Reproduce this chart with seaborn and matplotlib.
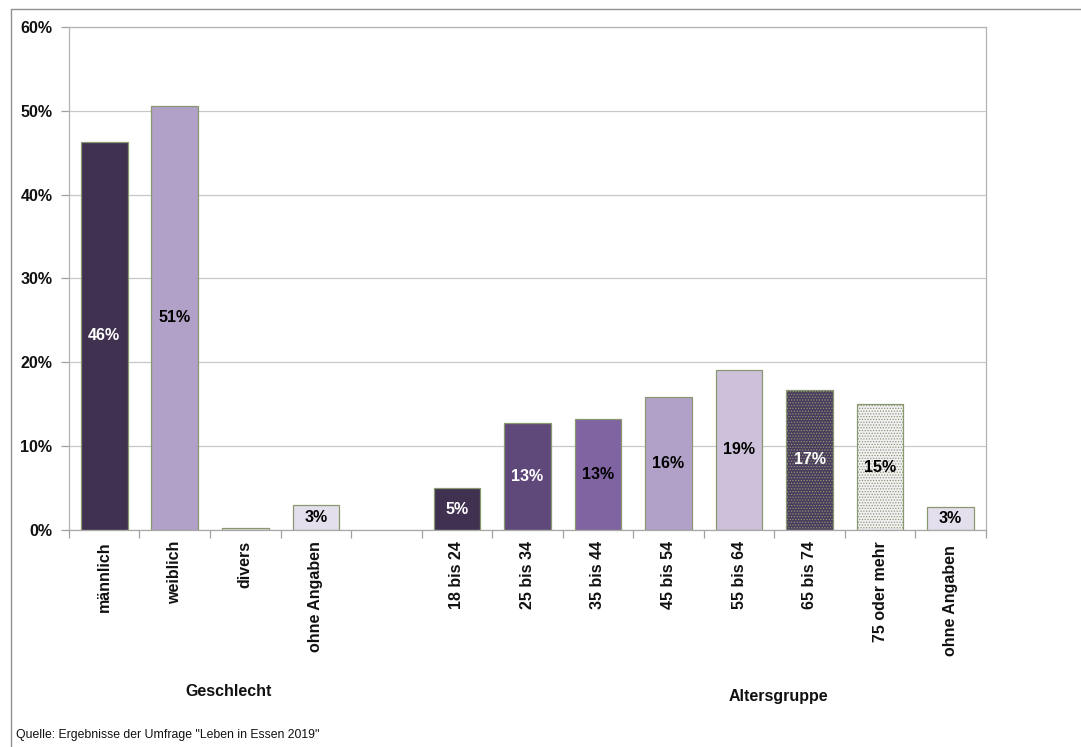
import matplotlib
matplotlib.use("Agg")
import matplotlib.pyplot as plt
import seaborn as sns
import pandas as pd
import numpy as np
from matplotlib.lines import Line2D

categories = ["männlich", "weiblich", "divers", "ohne Angaben", " ",
              "18 bis 24", "25 bis 34", "35 bis 44", "45 bis 54", "55 bis 64",
              "65 bis 74", "75 oder mehr", "ohne Angaben "]
values = [46.3, 50.6, 0.2, 3.0, np.nan,
          5.0, 12.8, 13.2, 15.9, 19.1, 16.7, 15.0, 2.7]
labels = ["46%", "51%", "", "3%", "",
          "5%", "13%", "13%", "16%", "19%", "17%", "15%", "3%"]
colors = ["#403151", "#b1a0c7", "#e4dfec", "#e4dfec", "#ffffff",
          "#403151", "#5f497a", "#8064a2", "#b1a0c7", "#ccc0da",
          "#4a3b5e", "#f2f0f4", "#e4dfec"]
label_colors = ["white", "black", "black", "black", "black",
                "white", "white", "black", "black", "black",
                "white", "black", "black"]
hatches = [None]*10 + ["......", "......", None]
hatch_colors = [None]*10 + ["#7d6d92", "#9a9a9a", None]
group_labels = ["Geschlecht", "Altersgruppe"]
source = 'Quelle: Ergebnisse der Umfrage "Leben in Essen 2019"'

df = pd.DataFrame({"cat": categories, "val": values})

sns.set_style("white")
plt.rcParams['font.family'] = ['Liberation Sans', 'DejaVu Sans']
plt.rcParams['hatch.linewidth'] = 0.6
plt.rcParams['text.color'] = '#111111'
plt.rcParams['xtick.labelcolor'] = '#111111'
plt.rcParams['ytick.labelcolor'] = '#111111'

fig = plt.figure(figsize=(10.81, 7.47), dpi=100)
ax = fig.add_axes([0.0638, 0.2905, 0.912 - 0.0638, 0.9639 - 0.2905])

sns.barplot(data=df, x="cat", y="val", hue="cat", palette=colors, order=categories,
            hue_order=categories, legend=False, width=0.66, ax=ax,
            edgecolor="#8a9870", linewidth=0.9, saturation=1)

for p in list(ax.patches):
    cx = p.get_x() + p.get_width() / 2
    i = int(round(cx))
    if np.isnan(values[i]):
        continue
    if hatches[i]:
        p.set_hatch(hatches[i])
        if hasattr(p, "set_hatchcolor"):
            p.set_hatchcolor(hatch_colors[i])
    if labels[i]:
        ax.text(cx, values[i] / 2, labels[i], ha="center", va="center",
                color=label_colors[i], fontsize=11.5, fontweight="bold")

ax.set_xlim(-0.5, len(categories) - 0.5)
ax.set_ylim(0, 60)
ax.set_yticks(range(0, 61, 10))
ax.set_yticklabels([f"{v}%" for v in range(0, 61, 10)], fontsize=11.5, fontweight="bold")
ax.yaxis.grid(True, color="#c8c8c8", linewidth=0.9)
ax.set_axisbelow(True)
ax.set_xlabel("")
ax.set_ylabel("")
ax.set_xticks(range(len(categories)))
ax.set_xticklabels(categories, rotation=90, fontsize=11.5, fontweight="bold", va="top")
ax.set_xticks(np.arange(-0.5, len(categories)), minor=True)
ax.tick_params(axis="x", which="major", length=0, pad=8)
ax.tick_params(axis="x", which="minor", length=6, color="#a0a0a0", width=0.9, bottom=True)
ax.tick_params(axis="y", length=6, color="#a0a0a0", width=0.9, left=True, pad=6)
for s in ["left", "right", "top", "bottom"]:
    ax.spines[s].set_color("#b4b4b4")
    ax.spines[s].set_linewidth(0.9)
ax.spines["bottom"].set_color("#a8a8a8")

fig.text(229 / 1081, 1 - 692 / 747, group_labels[0], ha="center", va="center",
         fontsize=11.5, fontweight="bold")
fig.text(778 / 1081, 1 - 697 / 747, group_labels[1], ha="center", va="center",
         fontsize=11.5, fontweight="bold")
fig.text(16 / 1081, 1 - 735 / 747, source, ha="left", va="center", fontsize=8.8)

fig.add_artist(Line2D([11 / 1081, 1], [1 - 9 / 747, 1 - 9 / 747], color="#909090", linewidth=1))
fig.add_artist(Line2D([11 / 1081, 11 / 1081], [0, 1 - 9 / 747], color="#909090", linewidth=1))

fig.savefig("out.png", dpi=100)
